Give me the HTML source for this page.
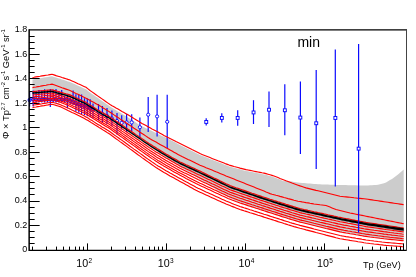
<!DOCTYPE html><html><head><meta charset="utf-8"><style>
html,body{margin:0;padding:0;background:#fff;}body{width:416px;height:277px;position:relative;overflow:hidden;font-family:"Liberation Sans",sans-serif;color:#000;}
.t{position:absolute;white-space:nowrap;line-height:1;}
.yl{font-size:9px;text-align:right;width:30px;left:-2.8px;}
.xl{font-size:10.7px;}
.xl sup{font-size:6.5px;position:relative;top:-1.2px;vertical-align:baseline;display:inline-block;transform:translateY(-3.2px);margin-left:0.3px}
</style></head><body><div style="position:absolute;left:0;top:0;width:416px;height:277px;will-change:transform">
<svg width="416" height="277" viewBox="0 0 416 277" style="position:absolute;left:0;top:0">
<polygon points="32.5,79.5 34.0,79.3 36.0,78.9 38.0,78.6 40.0,78.3 42.0,77.9 44.0,77.6 46.0,77.3 48.0,77.0 50.0,76.6 52.0,76.3 54.0,76.9 56.0,77.6 58.0,78.2 60.0,78.8 62.0,79.5 64.0,80.1 66.0,80.7 68.0,81.4 70.0,82.0 72.0,82.9 74.0,83.8 76.0,84.7 78.0,85.7 80.0,86.6 82.0,87.5 84.0,88.4 86.0,89.3 88.0,90.9 90.0,92.5 92.0,93.9 94.0,95.3 96.0,96.7 98.0,98.1 100.0,99.5 102.0,100.9 104.0,102.3 106.0,103.7 108.0,105.1 110.0,106.5 112.0,107.7 114.0,108.9 116.0,110.2 118.0,111.4 120.0,112.6 122.0,113.8 124.0,115.0 126.0,116.2 128.0,117.4 130.0,118.7 132.0,120.0 134.0,121.3 136.0,122.6 138.0,123.9 140.0,125.2 142.0,126.3 144.0,127.3 146.0,128.2 148.0,129.2 150.0,130.1 152.0,131.1 154.0,132.1 156.0,133.0 158.0,134.0 160.0,134.9 162.0,135.9 164.0,136.8 166.0,137.8 168.0,138.8 170.0,139.8 172.0,140.8 174.0,141.8 176.0,142.8 178.0,143.9 180.0,144.9 182.0,145.9 184.0,146.9 186.0,147.9 188.0,148.9 190.0,149.9 192.0,150.9 194.0,151.9 196.0,152.9 198.0,153.9 200.0,154.9 202.0,155.7 204.0,156.5 206.0,157.3 208.0,158.1 210.0,158.9 212.0,159.7 214.0,160.5 216.0,161.3 218.0,162.1 220.0,162.8 222.0,163.6 224.0,164.4 226.0,165.2 228.0,165.9 230.0,166.7 232.0,167.2 234.0,167.8 236.0,168.3 238.0,168.8 240.0,169.3 242.0,169.9 244.0,170.4 246.0,170.9 248.0,171.3 250.0,171.7 252.0,172.1 254.0,172.5 256.0,172.8 258.0,173.2 260.0,173.6 262.0,174.0 264.0,174.4 266.0,174.8 268.0,175.4 270.0,176.0 272.0,176.6 274.0,177.2 276.0,177.9 278.0,178.7 280.0,179.6 282.0,180.4 284.0,181.2 286.0,180.7 288.0,181.0 290.0,181.3 292.0,181.6 294.0,181.9 296.0,182.2 298.0,182.5 300.0,182.8 302.0,183.0 304.0,183.1 306.0,183.2 308.0,183.4 310.0,183.6 312.0,183.7 314.0,183.9 316.0,184.0 318.0,184.2 320.0,184.3 322.0,184.4 324.0,184.4 326.0,184.5 328.0,184.6 330.0,184.7 332.0,184.7 334.0,184.8 336.0,184.9 338.0,184.9 340.0,185.0 342.0,185.0 344.0,185.1 346.0,185.1 348.0,185.2 350.0,185.2 352.0,185.2 354.0,185.3 356.0,185.3 358.0,185.4 360.0,185.4 362.0,185.4 364.0,185.5 366.0,185.5 368.0,185.4 370.0,185.3 372.0,185.2 374.0,185.1 376.0,185.0 378.0,184.8 380.0,184.2 382.0,183.8 384.0,183.2 386.0,182.4 388.0,181.3 390.0,180.1 392.0,179.0 394.0,177.5 396.0,176.0 398.0,174.5 400.0,172.7 402.0,171.0 403.7,169.5 403.7,240.8 402.0,240.6 400.0,240.4 398.0,240.2 396.0,240.0 394.0,239.8 392.0,239.6 390.0,239.4 388.0,239.2 386.0,239.0 384.0,238.8 382.0,238.5 380.0,238.3 378.0,238.0 376.0,237.7 374.0,237.5 372.0,237.2 370.0,237.0 368.0,236.7 366.0,236.4 364.0,236.1 362.0,235.7 360.0,235.4 358.0,235.0 356.0,234.7 354.0,234.3 352.0,234.0 350.0,233.7 348.0,233.3 346.0,233.0 344.0,232.6 342.0,232.3 340.0,231.9 338.0,231.4 336.0,230.9 334.0,230.4 332.0,229.9 330.0,229.4 328.0,228.9 326.0,228.5 324.0,228.0 322.0,227.5 320.0,227.0 318.0,226.5 316.0,226.0 314.0,225.5 312.0,225.0 310.0,224.5 308.0,224.0 306.0,223.5 304.0,223.0 302.0,222.5 300.0,222.1 298.0,221.5 296.0,220.9 294.0,220.3 292.0,219.7 290.0,219.1 288.0,218.5 286.0,217.8 284.0,217.2 282.0,216.6 280.0,215.9 278.0,215.3 276.0,214.6 274.0,214.0 272.0,213.3 270.0,212.7 268.0,212.1 266.0,211.4 264.0,210.8 262.0,210.1 260.0,209.5 258.0,208.8 256.0,208.2 254.0,207.5 252.0,206.9 250.0,206.2 248.0,205.6 246.0,204.9 244.0,204.2 242.0,203.4 240.0,202.6 238.0,201.8 236.0,200.9 234.0,200.0 232.0,199.1 230.0,198.2 228.0,197.0 226.0,195.8 224.0,194.6 222.0,193.3 220.0,192.1 218.0,190.8 216.0,189.5 214.0,188.2 212.0,187.0 210.0,185.7 208.0,184.4 206.0,183.1 204.0,181.9 202.0,180.6 200.0,179.3 198.0,178.0 196.0,176.7 194.0,175.4 192.0,174.1 190.0,172.8 188.0,171.6 186.0,170.4 184.0,169.2 182.0,168.0 180.0,166.9 178.0,165.5 176.0,164.2 174.0,162.8 172.0,161.4 170.0,160.1 168.0,158.7 166.0,157.4 164.0,156.0 162.0,154.5 160.0,153.0 158.0,151.6 156.0,150.1 154.0,148.6 152.0,147.2 150.0,145.7 148.0,144.3 146.0,143.0 144.0,141.6 142.0,140.2 140.0,138.9 138.0,137.5 136.0,136.2 134.0,134.8 132.0,133.4 130.0,132.1 128.0,130.7 126.0,129.4 124.0,128.0 122.0,126.6 120.0,125.3 118.0,123.9 116.0,122.6 114.0,121.2 112.0,119.9 110.0,118.5 108.0,117.4 106.0,116.2 104.0,115.1 102.0,114.0 100.0,112.8 98.0,111.7 96.0,110.4 94.0,109.1 92.0,107.8 90.0,106.5 88.0,105.2 86.0,103.9 84.0,103.0 82.0,102.1 80.0,101.1 78.0,100.2 76.0,99.3 74.0,98.3 72.0,97.4 70.0,96.5 68.0,95.9 66.0,95.4 64.0,94.8 62.0,94.2 60.0,93.7 58.0,93.1 56.0,92.5 54.0,92.0 52.0,91.4 50.0,91.6 48.0,91.7 46.0,91.9 44.0,92.1 42.0,92.3 40.0,92.4 38.0,92.6 36.0,92.8 34.0,93.0 32.5,93.1" fill="#cccccc"/>
<line x1="29.15" y1="243.50" x2="34.65" y2="243.50" stroke="#000" stroke-width="1"/>
<line x1="29.15" y1="237.50" x2="34.65" y2="237.50" stroke="#000" stroke-width="1"/>
<line x1="29.15" y1="231.50" x2="34.65" y2="231.50" stroke="#000" stroke-width="1"/>
<line x1="29.15" y1="225.50" x2="39.65" y2="225.50" stroke="#000" stroke-width="1"/>
<line x1="29.15" y1="219.50" x2="34.65" y2="219.50" stroke="#000" stroke-width="1"/>
<line x1="29.15" y1="213.50" x2="34.65" y2="213.50" stroke="#000" stroke-width="1"/>
<line x1="29.15" y1="207.50" x2="34.65" y2="207.50" stroke="#000" stroke-width="1"/>
<line x1="29.15" y1="201.50" x2="39.65" y2="201.50" stroke="#000" stroke-width="1"/>
<line x1="29.15" y1="194.50" x2="34.65" y2="194.50" stroke="#000" stroke-width="1"/>
<line x1="29.15" y1="188.50" x2="34.65" y2="188.50" stroke="#000" stroke-width="1"/>
<line x1="29.15" y1="182.50" x2="34.65" y2="182.50" stroke="#000" stroke-width="1"/>
<line x1="29.15" y1="176.50" x2="39.65" y2="176.50" stroke="#000" stroke-width="1"/>
<line x1="29.15" y1="170.50" x2="34.65" y2="170.50" stroke="#000" stroke-width="1"/>
<line x1="29.15" y1="164.50" x2="34.65" y2="164.50" stroke="#000" stroke-width="1"/>
<line x1="29.15" y1="158.50" x2="34.65" y2="158.50" stroke="#000" stroke-width="1"/>
<line x1="29.15" y1="152.50" x2="39.65" y2="152.50" stroke="#000" stroke-width="1"/>
<line x1="29.15" y1="146.50" x2="34.65" y2="146.50" stroke="#000" stroke-width="1"/>
<line x1="29.15" y1="139.50" x2="34.65" y2="139.50" stroke="#000" stroke-width="1"/>
<line x1="29.15" y1="133.50" x2="34.65" y2="133.50" stroke="#000" stroke-width="1"/>
<line x1="29.15" y1="127.50" x2="39.65" y2="127.50" stroke="#000" stroke-width="1"/>
<line x1="29.15" y1="121.50" x2="34.65" y2="121.50" stroke="#000" stroke-width="1"/>
<line x1="29.15" y1="115.50" x2="34.65" y2="115.50" stroke="#000" stroke-width="1"/>
<line x1="29.15" y1="109.50" x2="34.65" y2="109.50" stroke="#000" stroke-width="1"/>
<line x1="29.15" y1="103.50" x2="39.65" y2="103.50" stroke="#000" stroke-width="1"/>
<line x1="29.15" y1="97.50" x2="34.65" y2="97.50" stroke="#000" stroke-width="1"/>
<line x1="29.15" y1="91.50" x2="34.65" y2="91.50" stroke="#000" stroke-width="1"/>
<line x1="29.15" y1="84.50" x2="34.65" y2="84.50" stroke="#000" stroke-width="1"/>
<line x1="29.15" y1="78.50" x2="39.65" y2="78.50" stroke="#000" stroke-width="1"/>
<line x1="29.15" y1="72.50" x2="34.65" y2="72.50" stroke="#000" stroke-width="1"/>
<line x1="29.15" y1="66.50" x2="34.65" y2="66.50" stroke="#000" stroke-width="1"/>
<line x1="29.15" y1="60.50" x2="34.65" y2="60.50" stroke="#000" stroke-width="1"/>
<line x1="29.15" y1="54.50" x2="39.65" y2="54.50" stroke="#000" stroke-width="1"/>
<line x1="29.15" y1="48.50" x2="34.65" y2="48.50" stroke="#000" stroke-width="1"/>
<line x1="29.15" y1="42.50" x2="34.65" y2="42.50" stroke="#000" stroke-width="1"/>
<line x1="29.15" y1="36.50" x2="34.65" y2="36.50" stroke="#000" stroke-width="1"/>
<line x1="33.2" y1="90.4" x2="33.2" y2="106.5" stroke="#0a0aff" stroke-width="1.2"/>
<line x1="36.1" y1="91.0" x2="36.1" y2="102.5" stroke="#0a0aff" stroke-width="1.2"/>
<line x1="38.9" y1="90.1" x2="38.9" y2="102.5" stroke="#0a0aff" stroke-width="1.2"/>
<line x1="41.8" y1="90.3" x2="41.8" y2="102.5" stroke="#0a0aff" stroke-width="1.2"/>
<line x1="44.6" y1="89.2" x2="44.6" y2="102.5" stroke="#0a0aff" stroke-width="1.2"/>
<line x1="47.5" y1="90.0" x2="47.5" y2="102.5" stroke="#0a0aff" stroke-width="1.2"/>
<line x1="50.3" y1="89.1" x2="50.3" y2="107.1" stroke="#0a0aff" stroke-width="1.2"/>
<line x1="53.2" y1="89.7" x2="53.2" y2="102.5" stroke="#0a0aff" stroke-width="1.2"/>
<line x1="56.0" y1="89.1" x2="56.0" y2="102.5" stroke="#0a0aff" stroke-width="1.2"/>
<line x1="58.9" y1="90.9" x2="58.9" y2="102.5" stroke="#0a0aff" stroke-width="1.2"/>
<line x1="61.7" y1="89.9" x2="61.7" y2="102.5" stroke="#0a0aff" stroke-width="1.2"/>
<line x1="64.6" y1="96.0" x2="64.6" y2="102.5" stroke="#0a0aff" stroke-width="1.2"/>
<line x1="67.4" y1="94.4" x2="67.4" y2="108.2" stroke="#0a0aff" stroke-width="1.2"/>
<line x1="70.2" y1="97.6" x2="70.2" y2="104.1" stroke="#0a0aff" stroke-width="1.2"/>
<line x1="73.1" y1="90.5" x2="73.1" y2="105.1" stroke="#0a0aff" stroke-width="1.2"/>
<line x1="75.9" y1="94.3" x2="75.9" y2="111.6" stroke="#0a0aff" stroke-width="1.2"/>
<line x1="78.8" y1="94.4" x2="78.8" y2="112.7" stroke="#0a0aff" stroke-width="1.2"/>
<line x1="81.6" y1="94.5" x2="81.6" y2="113.9" stroke="#0a0aff" stroke-width="1.2"/>
<line x1="84.5" y1="98.2" x2="84.5" y2="115.0" stroke="#0a0aff" stroke-width="1.2"/>
<line x1="87.3" y1="98.6" x2="87.3" y2="116.2" stroke="#0a0aff" stroke-width="1.2"/>
<line x1="90.2" y1="99.2" x2="90.2" y2="117.3" stroke="#0a0aff" stroke-width="1.2"/>
<line x1="93.0" y1="103.5" x2="93.0" y2="118.5" stroke="#0a0aff" stroke-width="1.2"/>
<line x1="29.6" y1="92.0" x2="29.6" y2="106.5" stroke="#0a0aff" stroke-width="1.2"/>
<line x1="148.2" y1="96.9" x2="148.2" y2="132.1" stroke="#0a0aff" stroke-width="1.2"/>
<line x1="157.1" y1="94.7" x2="157.1" y2="136.5" stroke="#0a0aff" stroke-width="1.2"/>
<line x1="167.2" y1="94.7" x2="167.2" y2="148.0" stroke="#0a0aff" stroke-width="1.2"/>
<line x1="139.9" y1="117.5" x2="139.9" y2="137.8" stroke="#0a0aff" stroke-width="1.2"/>
<line x1="131.7" y1="114.2" x2="131.7" y2="131.0" stroke="#0a0aff" stroke-width="1.2"/>
<line x1="126.6" y1="113.7" x2="126.6" y2="132.0" stroke="#0a0aff" stroke-width="1.2"/>
<line x1="121.7" y1="115.3" x2="121.7" y2="129.4" stroke="#0a0aff" stroke-width="1.2"/>
<line x1="117.0" y1="113.0" x2="117.0" y2="134.5" stroke="#0a0aff" stroke-width="1.2"/>
<line x1="111.9" y1="110.5" x2="111.9" y2="126.0" stroke="#0a0aff" stroke-width="1.2"/>
<line x1="107.0" y1="108.0" x2="107.0" y2="124.0" stroke="#0a0aff" stroke-width="1.2"/>
<line x1="102.4" y1="106.0" x2="102.4" y2="122.9" stroke="#0a0aff" stroke-width="1.2"/>
<line x1="98.5" y1="104.0" x2="98.5" y2="120.0" stroke="#0a0aff" stroke-width="1.2"/>
<circle cx="33.2" cy="99.5" r="1.5" fill="none" stroke="#0a0aff" stroke-width="1.15"/>
<circle cx="36.1" cy="99.5" r="1.5" fill="none" stroke="#0a0aff" stroke-width="1.15"/>
<circle cx="38.9" cy="99.5" r="1.5" fill="none" stroke="#0a0aff" stroke-width="1.15"/>
<circle cx="41.8" cy="99.5" r="1.5" fill="none" stroke="#0a0aff" stroke-width="1.15"/>
<circle cx="44.6" cy="99.5" r="1.5" fill="none" stroke="#0a0aff" stroke-width="1.15"/>
<circle cx="47.5" cy="99.5" r="1.5" fill="none" stroke="#0a0aff" stroke-width="1.15"/>
<circle cx="50.3" cy="99.5" r="1.5" fill="none" stroke="#0a0aff" stroke-width="1.15"/>
<circle cx="53.2" cy="99.5" r="1.5" fill="none" stroke="#0a0aff" stroke-width="1.15"/>
<circle cx="56.0" cy="99.5" r="1.5" fill="none" stroke="#0a0aff" stroke-width="1.15"/>
<circle cx="58.9" cy="99.5" r="1.5" fill="none" stroke="#0a0aff" stroke-width="1.15"/>
<circle cx="61.7" cy="99.5" r="1.5" fill="none" stroke="#0a0aff" stroke-width="1.15"/>
<circle cx="64.6" cy="99.5" r="1.5" fill="none" stroke="#0a0aff" stroke-width="1.15"/>
<circle cx="67.4" cy="100.0" r="1.5" fill="none" stroke="#0a0aff" stroke-width="1.15"/>
<circle cx="70.2" cy="101.1" r="1.5" fill="none" stroke="#0a0aff" stroke-width="1.15"/>
<circle cx="73.1" cy="102.1" r="1.5" fill="none" stroke="#0a0aff" stroke-width="1.15"/>
<circle cx="75.9" cy="103.2" r="1.5" fill="none" stroke="#0a0aff" stroke-width="1.15"/>
<circle cx="78.8" cy="104.2" r="1.5" fill="none" stroke="#0a0aff" stroke-width="1.15"/>
<circle cx="81.6" cy="105.3" r="1.5" fill="none" stroke="#0a0aff" stroke-width="1.15"/>
<circle cx="84.5" cy="106.3" r="1.5" fill="none" stroke="#0a0aff" stroke-width="1.15"/>
<circle cx="87.3" cy="107.4" r="1.5" fill="none" stroke="#0a0aff" stroke-width="1.15"/>
<circle cx="90.2" cy="108.4" r="1.5" fill="none" stroke="#0a0aff" stroke-width="1.15"/>
<circle cx="93.0" cy="109.5" r="1.5" fill="none" stroke="#0a0aff" stroke-width="1.15"/>
<circle cx="29.6" cy="100.1" r="1.5" fill="none" stroke="#0a0aff" stroke-width="1.15"/>
<circle cx="148.2" cy="114.7" r="1.6" fill="#fff" stroke="#0a0aff" stroke-width="0.95"/>
<circle cx="157.1" cy="116.4" r="1.6" fill="#fff" stroke="#0a0aff" stroke-width="0.95"/>
<circle cx="167.2" cy="121.8" r="1.6" fill="#fff" stroke="#0a0aff" stroke-width="0.95"/>
<circle cx="139.9" cy="127.2" r="1.6" fill="#fff" stroke="#0a0aff" stroke-width="0.95"/>
<circle cx="131.7" cy="122.4" r="1.6" fill="#fff" stroke="#0a0aff" stroke-width="0.95"/>
<circle cx="126.6" cy="122.4" r="1.6" fill="#fff" stroke="#0a0aff" stroke-width="0.95"/>
<circle cx="121.7" cy="122.9" r="1.6" fill="#fff" stroke="#0a0aff" stroke-width="0.95"/>
<circle cx="117.0" cy="121.0" r="1.6" fill="#fff" stroke="#0a0aff" stroke-width="0.95"/>
<circle cx="111.9" cy="118.5" r="1.6" fill="#fff" stroke="#0a0aff" stroke-width="0.95"/>
<circle cx="107.0" cy="116.0" r="1.6" fill="#fff" stroke="#0a0aff" stroke-width="0.95"/>
<circle cx="102.4" cy="114.0" r="1.6" fill="#fff" stroke="#0a0aff" stroke-width="0.95"/>
<circle cx="98.5" cy="112.0" r="1.6" fill="#fff" stroke="#0a0aff" stroke-width="0.95"/>
<polyline points="32.5,77.5 34.0,77.3 36.0,76.9 38.0,76.6 40.0,76.3 42.0,75.9 44.0,75.6 46.0,75.3 48.0,75.0 50.0,74.6 52.0,74.3 54.0,74.9 56.0,75.6 58.0,76.2 60.0,76.8 62.0,77.5 64.0,78.1 66.0,78.7 68.0,79.4 70.0,80.0 72.0,80.9 74.0,81.8 76.0,82.7 78.0,83.7 80.0,84.6 82.0,85.5 84.0,86.4 86.0,87.3 88.0,88.9 90.0,90.5 92.0,91.9 94.0,93.3 96.0,94.7 98.0,96.1 100.0,97.5 102.0,98.9 104.0,100.3 106.0,101.7 108.0,103.1 110.0,104.5 112.0,105.7 114.0,106.8 116.0,108.0 118.0,109.1 120.0,110.2 122.0,111.4 124.0,112.5 126.0,113.7 128.0,114.8 130.0,116.0 132.0,117.2 134.0,118.5 136.0,119.7 138.0,120.9 140.0,122.2 142.0,123.4 144.0,124.5 146.0,125.6 148.0,126.7 150.0,127.8 152.0,128.9 154.0,129.9 156.0,131.0 158.0,132.1 160.0,133.2 162.0,134.3 164.0,135.4 166.0,136.4 168.0,137.4 170.0,138.4 172.0,139.4 174.0,140.4 176.0,141.5 178.0,142.5 180.0,143.5 182.0,144.5 184.0,145.5 186.0,146.5 188.0,147.5 190.0,148.5 192.0,149.6 194.0,150.6 196.0,151.6 198.0,152.6 200.0,153.6 202.0,154.4 204.0,155.2 206.0,156.0 208.0,156.8 210.0,157.6 212.0,158.4 214.0,159.2 216.0,160.0 218.0,160.8 220.0,161.5 222.0,162.3 224.0,163.1 226.0,163.9 228.0,164.6 230.0,165.4 232.0,165.9 234.0,166.5 236.0,167.0 238.0,167.5 240.0,168.1 242.0,168.6 244.0,169.1 246.0,169.6 248.0,170.0 250.0,170.4 252.0,170.8 254.0,171.2 256.0,171.6 258.0,172.0 260.0,172.4 262.0,172.8 264.0,173.1 266.0,173.6 268.0,174.2 270.0,174.8 272.0,175.4 274.0,176.0 276.0,176.7 278.0,177.5 280.0,178.4 282.0,179.2 284.0,180.0 286.0,180.8 288.0,181.5 290.0,182.3 292.0,183.1 294.0,183.8 296.0,184.5 298.0,185.2 300.0,185.9 302.0,186.5 304.0,187.2 306.0,187.9 308.0,188.4 310.0,188.9 312.0,189.4 314.0,189.9 316.0,190.4 318.0,190.8 320.0,191.3 322.0,191.8 324.0,192.3 326.0,192.8 328.0,193.3 330.0,193.8 332.0,194.3 334.0,194.8 336.0,195.3 338.0,195.8 340.0,196.3 342.0,196.5 344.0,196.7 346.0,196.9 348.0,197.1 350.0,197.3 352.0,197.5 354.0,197.8 356.0,198.0 358.0,198.2 360.0,198.4 362.0,198.6 364.0,198.8 366.0,199.0 368.0,199.3 370.0,199.6 372.0,199.9 374.0,200.2 376.0,200.5 378.0,200.8 380.0,201.1 382.0,201.4 384.0,201.7 386.0,202.0 388.0,202.3 390.0,202.6 392.0,202.9 394.0,203.2 396.0,203.5 398.0,203.8 400.0,204.1 402.0,204.4 403.7,204.7" fill="none" stroke="#ff0000" stroke-width="1.12"/>
<polyline points="32.5,87.6 34.0,87.3 36.0,87.0 38.0,86.6 40.0,86.3 42.0,85.9 44.0,85.5 46.0,85.2 48.0,84.8 50.0,84.5 52.0,84.1 54.0,84.8 56.0,85.5 58.0,86.2 60.0,86.9 62.0,87.7 64.0,88.4 66.0,89.1 68.0,89.8 70.0,90.5 72.0,91.5 74.0,92.4 76.0,93.4 78.0,94.3 80.0,95.3 82.0,96.3 84.0,97.2 86.0,98.2 88.0,99.3 90.0,100.4 92.0,101.5 94.0,102.6 96.0,103.7 98.0,104.8 100.0,105.9 102.0,107.2 104.0,108.4 106.0,109.7 108.0,110.9 110.0,112.2 112.0,113.5 114.0,114.9 116.0,116.2 118.0,117.5 120.0,118.9 122.0,120.2 124.0,121.5 126.0,122.8 128.0,124.2 130.0,125.5 132.0,126.8 134.0,128.2 136.0,129.5 138.0,130.8 140.0,132.2 142.0,133.5 144.0,134.8 146.0,136.1 148.0,137.5 150.0,138.8 152.0,139.9 154.0,141.0 156.0,142.1 158.0,143.3 160.0,144.4 162.0,145.5 164.0,146.6 166.0,147.7 168.0,148.8 170.0,149.9 172.0,151.0 174.0,152.2 176.0,153.3 178.0,154.4 180.0,155.5 182.0,156.5 184.0,157.4 186.0,158.4 188.0,159.4 190.0,160.3 192.0,161.3 194.0,162.3 196.0,163.3 198.0,164.2 200.0,165.2 202.0,166.0 204.0,166.8 206.0,167.7 208.0,168.5 210.0,169.3 212.0,170.1 214.0,170.9 216.0,171.8 218.0,172.6 220.0,173.4 222.0,174.2 224.0,175.0 226.0,175.9 228.0,176.7 230.0,177.5 232.0,178.3 234.0,179.1 236.0,179.9 238.0,180.7 240.0,181.5 242.0,182.3 244.0,183.1 246.0,183.9 248.0,184.7 250.0,185.5 252.0,186.3 254.0,187.1 256.0,187.9 258.0,188.7 260.0,189.5 262.0,190.3 264.0,191.1 266.0,192.0 268.0,192.8 270.0,193.6 272.0,194.2 274.0,194.7 276.0,195.3 278.0,195.8 280.0,196.4 282.0,196.9 284.0,197.5 286.0,198.0 288.0,198.6 290.0,199.1 292.0,199.6 294.0,200.2 296.0,200.7 298.0,201.2 300.0,201.5 302.0,201.9 304.0,202.2 306.0,202.6 308.0,202.9 310.0,203.3 312.0,203.6 314.0,204.0 316.0,204.2 318.0,204.5 320.0,204.8 322.0,205.0 324.0,205.2 326.0,205.5 328.0,206.3 330.0,207.1 332.0,207.9 334.0,208.7 336.0,209.5 338.0,210.0 340.0,210.5 342.0,211.0 344.0,211.5 346.0,212.0 348.0,212.5 350.0,213.0 352.0,213.4 354.0,213.8 356.0,214.2 358.0,214.6 360.0,215.0 362.0,215.4 364.0,215.8 366.0,216.2 368.0,216.6 370.0,217.0 372.0,217.4 374.0,217.8 376.0,218.2 378.0,218.6 380.0,219.0 382.0,219.4 384.0,219.8 386.0,220.2 388.0,220.6 390.0,221.0 392.0,221.4 394.0,221.8 396.0,222.2 398.0,222.6 400.0,223.0 402.0,223.4 403.7,223.7" fill="none" stroke="#ff0000" stroke-width="1.12"/>
<polyline points="32.5,91.5 34.0,91.4 36.0,91.2 38.0,91.0 40.0,90.8 42.0,90.7 44.0,90.5 46.0,90.3 48.0,90.1 50.0,90.0 52.0,89.8 54.0,90.4 56.0,90.9 58.0,91.5 60.0,92.1 62.0,92.6 64.0,93.2 66.0,93.8 68.0,94.3 70.0,94.9 72.0,95.8 74.0,96.8 76.0,97.7 78.0,98.6 80.0,99.5 82.0,100.5 84.0,101.4 86.0,102.3 88.0,103.6 90.0,104.9 92.0,106.2 94.0,107.5 96.0,108.8 98.0,110.1 100.0,111.2 102.0,112.4 104.0,113.5 106.0,114.6 108.0,115.8 110.0,116.9 112.0,118.3 114.0,119.6 116.0,121.0 118.0,122.3 120.0,123.7 122.0,125.0 124.0,126.4 126.0,127.8 128.0,129.1 130.0,130.5 132.0,131.8 134.0,133.2 136.0,134.6 138.0,135.9 140.0,137.3 142.0,138.6 144.0,140.0 146.0,141.4 148.0,142.7 150.0,144.1 152.0,145.3 154.0,146.6 156.0,147.8 158.0,149.1 160.0,150.3 162.0,151.5 164.0,152.8 166.0,154.0 168.0,155.1 170.0,156.2 172.0,157.4 174.0,158.5 176.0,159.6 178.0,160.8 180.0,161.9 182.0,162.8 184.0,163.7 186.0,164.7 188.0,165.6 190.0,166.5 192.0,167.4 194.0,168.3 196.0,169.3 198.0,170.2 200.0,171.1 202.0,172.1 204.0,173.0 206.0,174.0 208.0,175.0 210.0,175.9 212.0,176.9 214.0,177.9 216.0,178.8 218.0,179.8 220.0,180.8 222.0,181.7 224.0,182.7 226.0,183.7 228.0,184.6 230.0,185.6 232.0,186.3 234.0,187.0 236.0,187.7 238.0,188.3 240.0,189.0 242.0,189.7 244.0,190.4 246.0,191.1 248.0,191.8 250.0,192.5 252.0,193.2 254.0,193.8 256.0,194.5 258.0,195.2 260.0,195.9 262.0,196.6 264.0,197.2 266.0,197.8 268.0,198.5 270.0,199.2 272.0,199.8 274.0,200.5 276.0,201.1 278.0,201.8 280.0,202.4 282.0,203.0 284.0,203.6 286.0,204.3 288.0,204.9 290.0,205.5 292.0,206.1 294.0,206.7 296.0,207.4 298.0,208.0 300.0,208.6 302.0,209.0 304.0,209.5 306.0,209.9 308.0,210.4 310.0,210.8 312.0,211.2 314.0,211.7 316.0,212.1 318.0,212.6 320.0,213.0 322.0,213.4 324.0,213.9 326.0,214.3 328.0,214.8 330.0,215.2 332.0,215.6 334.0,216.1 336.0,216.5 338.0,217.0 340.0,217.4 342.0,217.8 344.0,218.2 346.0,218.6 348.0,218.9 350.0,219.3 352.0,219.7 354.0,220.1 356.0,220.5 358.0,220.9 360.0,221.2 362.0,221.6 364.0,222.0 366.0,222.4 368.0,222.7 370.0,223.0 372.0,223.3 374.0,223.6 376.0,223.9 378.0,224.2 380.0,224.5 382.0,224.8 384.0,225.1 386.0,225.4 388.0,225.7 390.0,226.0 392.0,226.3 394.0,226.6 396.0,226.9 398.0,227.2 400.0,227.5 402.0,227.7 403.7,228.0" fill="none" stroke="#ff0000" stroke-width="1.12"/>
<polyline points="32.5,95.1 34.0,94.9 36.0,94.7 38.0,94.5 40.0,94.3 42.0,94.1 44.0,93.9 46.0,93.7 48.0,93.5 50.0,93.3 52.0,93.1 54.0,93.7 56.0,94.3 58.0,94.8 60.0,95.4 62.0,96.0 64.0,96.7 66.0,97.3 68.0,97.9 70.0,98.5 72.0,99.4 74.0,100.4 76.0,101.3 78.0,102.2 80.0,103.2 82.0,104.1 84.0,105.0 86.0,106.0 88.0,107.3 90.0,108.6 92.0,109.9 94.0,111.1 96.0,112.4 98.0,113.7 100.0,114.9 102.0,116.0 104.0,117.2 106.0,118.3 108.0,119.5 110.0,120.6 112.0,122.0 114.0,123.4 116.0,124.7 118.0,126.1 120.0,127.5 122.0,128.9 124.0,130.2 126.0,131.6 128.0,133.0 130.0,134.3 132.0,135.7 134.0,137.1 136.0,138.5 138.0,139.8 140.0,141.2 142.0,142.6 144.0,144.0 146.0,145.3 148.0,146.7 150.0,148.1 152.0,149.3 154.0,150.6 156.0,151.9 158.0,153.1 160.0,154.3 162.0,155.6 164.0,156.8 166.0,158.0 168.0,159.1 170.0,160.3 172.0,161.4 174.0,162.5 176.0,163.7 178.0,164.8 180.0,165.9 182.0,166.9 184.0,167.8 186.0,168.8 188.0,169.7 190.0,170.6 192.0,171.6 194.0,172.5 196.0,173.5 198.0,174.4 200.0,175.3 202.0,176.3 204.0,177.3 206.0,178.2 208.0,179.2 210.0,180.1 212.0,181.1 214.0,182.0 216.0,183.0 218.0,184.0 220.0,184.9 222.0,185.9 224.0,186.8 226.0,187.8 228.0,188.7 230.0,189.7 232.0,190.4 234.0,191.1 236.0,191.8 238.0,192.5 240.0,193.2 242.0,193.9 244.0,194.5 246.0,195.2 248.0,195.9 250.0,196.6 252.0,197.3 254.0,197.9 256.0,198.6 258.0,199.3 260.0,200.0 262.0,200.6 264.0,201.3 266.0,201.9 268.0,202.6 270.0,203.2 272.0,203.9 274.0,204.5 276.0,205.2 278.0,205.8 280.0,206.5 282.0,207.1 284.0,207.7 286.0,208.3 288.0,208.9 290.0,209.6 292.0,210.2 294.0,210.8 296.0,211.4 298.0,212.0 300.0,212.6 302.0,213.1 304.0,213.5 306.0,214.0 308.0,214.4 310.0,214.9 312.0,215.3 314.0,215.8 316.0,216.2 318.0,216.7 320.0,217.2 322.0,217.6 324.0,218.1 326.0,218.5 328.0,219.0 330.0,219.4 332.0,219.9 334.0,220.3 336.0,220.8 338.0,221.2 340.0,221.7 342.0,222.0 344.0,222.4 346.0,222.8 348.0,223.2 350.0,223.5 352.0,223.9 354.0,224.3 356.0,224.7 358.0,225.1 360.0,225.4 362.0,225.8 364.0,226.2 366.0,226.6 368.0,226.9 370.0,227.1 372.0,227.4 374.0,227.7 376.0,228.0 378.0,228.3 380.0,228.6 382.0,228.9 384.0,229.2 386.0,229.5 388.0,229.7 390.0,230.0 392.0,230.3 394.0,230.6 396.0,230.8 398.0,231.1 400.0,231.4 402.0,231.7 403.7,231.9" fill="none" stroke="#ff0000" stroke-width="1.12"/>
<polyline points="32.5,97.0 34.0,96.8 36.0,96.6 38.0,96.4 40.0,96.2 42.0,96.0 44.0,95.7 46.0,95.5 48.0,95.3 50.0,95.1 52.0,94.9 54.0,95.4 56.0,96.0 58.0,96.6 60.0,97.2 62.0,97.8 64.0,98.5 66.0,99.2 68.0,99.9 70.0,100.5 72.0,101.5 74.0,102.4 76.0,103.3 78.0,104.3 80.0,105.2 82.0,106.1 84.0,107.1 86.0,108.1 88.0,109.4 90.0,110.6 92.0,111.9 94.0,113.2 96.0,114.5 98.0,115.8 100.0,117.0 102.0,118.1 104.0,119.3 106.0,120.4 108.0,121.6 110.0,122.8 112.0,124.1 114.0,125.5 116.0,126.9 118.0,128.3 120.0,129.7 122.0,131.1 124.0,132.4 126.0,133.8 128.0,135.2 130.0,136.6 132.0,138.0 134.0,139.4 136.0,140.8 138.0,142.2 140.0,143.5 142.0,144.9 144.0,146.3 146.0,147.7 148.0,149.1 150.0,150.5 152.0,151.7 154.0,153.0 156.0,154.3 158.0,155.6 160.0,156.8 162.0,158.0 164.0,159.2 166.0,160.4 168.0,161.6 170.0,162.7 172.0,163.8 174.0,165.0 176.0,166.1 178.0,167.2 180.0,168.3 182.0,169.3 184.0,170.3 186.0,171.2 188.0,172.2 190.0,173.2 192.0,174.2 194.0,175.1 196.0,176.1 198.0,177.1 200.0,178.0 202.0,178.9 204.0,179.9 206.0,180.8 208.0,181.8 210.0,182.7 212.0,183.7 214.0,184.6 216.0,185.6 218.0,186.5 220.0,187.5 222.0,188.4 224.0,189.4 226.0,190.3 228.0,191.2 230.0,192.2 232.0,192.9 234.0,193.6 236.0,194.3 238.0,195.0 240.0,195.7 242.0,196.4 244.0,197.1 246.0,197.7 248.0,198.4 250.0,199.1 252.0,199.8 254.0,200.4 256.0,201.1 258.0,201.8 260.0,202.4 262.0,203.1 264.0,203.7 266.0,204.4 268.0,205.0 270.0,205.7 272.0,206.3 274.0,207.0 276.0,207.6 278.0,208.3 280.0,208.9 282.0,209.5 284.0,210.2 286.0,210.8 288.0,211.4 290.0,212.0 292.0,212.7 294.0,213.3 296.0,213.9 298.0,214.5 300.0,215.1 302.0,215.5 304.0,216.0 306.0,216.5 308.0,216.9 310.0,217.4 312.0,217.9 314.0,218.3 316.0,218.8 318.0,219.2 320.0,219.7 322.0,220.2 324.0,220.6 326.0,221.1 328.0,221.5 330.0,222.0 332.0,222.5 334.0,222.9 336.0,223.4 338.0,223.9 340.0,224.3 342.0,224.7 344.0,225.1 346.0,225.4 348.0,225.8 350.0,226.2 352.0,226.5 354.0,226.9 356.0,227.3 358.0,227.6 360.0,228.0 362.0,228.4 364.0,228.8 366.0,229.1 368.0,229.4 370.0,229.7 372.0,230.0 374.0,230.3 376.0,230.5 378.0,230.8 380.0,231.1 382.0,231.4 384.0,231.7 386.0,231.9 388.0,232.2 390.0,232.5 392.0,232.7 394.0,233.0 396.0,233.2 398.0,233.5 400.0,233.7 402.0,234.0 403.7,234.2" fill="none" stroke="#ff0000" stroke-width="1.12"/>
<polyline points="32.5,98.9 34.0,98.7 36.0,98.5 38.0,98.2 40.0,98.0 42.0,97.7 44.0,97.5 46.0,97.3 48.0,97.0 50.0,96.8 52.0,96.5 54.0,97.1 56.0,97.7 58.0,98.3 60.0,98.8 62.0,99.6 64.0,100.3 66.0,101.0 68.0,101.7 70.0,102.5 72.0,103.4 74.0,104.3 76.0,105.3 78.0,106.2 80.0,107.2 82.0,108.1 84.0,109.0 86.0,110.1 88.0,111.4 90.0,112.6 92.0,113.9 94.0,115.2 96.0,116.5 98.0,117.7 100.0,118.9 102.0,120.1 104.0,121.3 106.0,122.5 108.0,123.6 110.0,124.8 112.0,126.2 114.0,127.6 116.0,129.0 118.0,130.4 120.0,131.8 122.0,133.2 124.0,134.6 126.0,136.0 128.0,137.4 130.0,138.8 132.0,140.2 134.0,141.6 136.0,143.0 138.0,144.4 140.0,145.8 142.0,147.2 144.0,148.6 146.0,150.0 148.0,151.4 150.0,152.7 152.0,154.0 154.0,155.3 156.0,156.7 158.0,157.9 160.0,159.1 162.0,160.4 164.0,161.6 166.0,162.8 168.0,163.9 170.0,165.0 172.0,166.2 174.0,167.3 176.0,168.4 178.0,169.5 180.0,170.7 182.0,171.7 184.0,172.7 186.0,173.6 188.0,174.6 190.0,175.6 192.0,176.6 194.0,177.6 196.0,178.6 198.0,179.6 200.0,180.5 202.0,181.5 204.0,182.4 206.0,183.3 208.0,184.3 210.0,185.2 212.0,186.2 214.0,187.1 216.0,188.0 218.0,189.0 220.0,189.9 222.0,190.9 224.0,191.8 226.0,192.7 228.0,193.7 230.0,194.5 232.0,195.3 234.0,196.0 236.0,196.7 238.0,197.5 240.0,198.2 242.0,198.8 244.0,199.5 246.0,200.2 248.0,200.8 250.0,201.5 252.0,202.2 254.0,202.8 256.0,203.5 258.0,204.2 260.0,204.8 262.0,205.5 264.0,206.1 266.0,206.8 268.0,207.4 270.0,208.1 272.0,208.7 274.0,209.3 276.0,210.0 278.0,210.6 280.0,211.3 282.0,211.9 284.0,212.5 286.0,213.2 288.0,213.8 290.0,214.4 292.0,215.0 294.0,215.6 296.0,216.2 298.0,216.8 300.0,217.4 302.0,217.9 304.0,218.4 306.0,218.9 308.0,219.3 310.0,219.8 312.0,220.3 314.0,220.7 316.0,221.2 318.0,221.7 320.0,222.2 322.0,222.6 324.0,223.1 326.0,223.6 328.0,224.0 330.0,224.5 332.0,225.0 334.0,225.5 336.0,225.9 338.0,226.4 340.0,226.9 342.0,227.2 344.0,227.6 346.0,228.0 348.0,228.3 350.0,228.7 352.0,229.1 354.0,229.4 356.0,229.8 358.0,230.1 360.0,230.5 362.0,230.9 364.0,231.2 366.0,231.6 368.0,231.9 370.0,232.1 372.0,232.4 374.0,232.7 376.0,233.0 378.0,233.2 380.0,233.5 382.0,233.8 384.0,234.1 386.0,234.3 388.0,234.6 390.0,234.8 392.0,235.1 394.0,235.3 396.0,235.5 398.0,235.8 400.0,236.0 402.0,236.2 403.7,236.4" fill="none" stroke="#ff0000" stroke-width="1.12"/>
<polyline points="32.5,100.9 34.0,100.7 36.0,100.4 38.0,100.1 40.0,99.9 42.0,99.6 44.0,99.3 46.0,99.1 48.0,98.8 50.0,98.5 52.0,98.2 54.0,98.8 56.0,99.4 58.0,100.0 60.0,100.6 62.0,101.4 64.0,102.1 66.0,102.9 68.0,103.7 70.0,104.5 72.0,105.4 74.0,106.4 76.0,107.3 78.0,108.3 80.0,109.2 82.0,110.2 84.0,111.1 86.0,112.2 88.0,113.4 90.0,114.7 92.0,116.0 94.0,117.2 96.0,118.5 98.0,119.8 100.0,121.0 102.0,122.2 104.0,123.4 106.0,124.6 108.0,125.8 110.0,127.0 112.0,128.4 114.0,129.8 116.0,131.2 118.0,132.6 120.0,134.0 122.0,135.4 124.0,136.8 126.0,138.2 128.0,139.6 130.0,141.1 132.0,142.5 134.0,143.9 136.0,145.3 138.0,146.7 140.0,148.1 142.0,149.5 144.0,150.9 146.0,152.4 148.0,153.7 150.0,155.1 152.0,156.4 154.0,157.8 156.0,159.1 158.0,160.4 160.0,161.6 162.0,162.8 164.0,164.0 166.0,165.2 168.0,166.3 170.0,167.5 172.0,168.6 174.0,169.7 176.0,170.8 178.0,172.0 180.0,173.1 182.0,174.1 184.0,175.1 186.0,176.1 188.0,177.2 190.0,178.2 192.0,179.2 194.0,180.2 196.0,181.2 198.0,182.2 200.0,183.2 202.0,184.1 204.0,185.0 206.0,186.0 208.0,186.9 210.0,187.8 212.0,188.7 214.0,189.7 216.0,190.6 218.0,191.5 220.0,192.5 222.0,193.4 224.0,194.3 226.0,195.3 228.0,196.2 230.0,197.0 232.0,197.8 234.0,198.5 236.0,199.2 238.0,200.0 240.0,200.7 242.0,201.4 244.0,202.0 246.0,202.7 248.0,203.4 250.0,204.0 252.0,204.7 254.0,205.3 256.0,206.0 258.0,206.6 260.0,207.3 262.0,207.9 264.0,208.6 266.0,209.2 268.0,209.9 270.0,210.5 272.0,211.2 274.0,211.8 276.0,212.4 278.0,213.1 280.0,213.7 282.0,214.4 284.0,215.0 286.0,215.6 288.0,216.3 290.0,216.9 292.0,217.5 294.0,218.1 296.0,218.7 298.0,219.3 300.0,219.9 302.0,220.4 304.0,220.8 306.0,221.3 308.0,221.8 310.0,222.3 312.0,222.8 314.0,223.3 316.0,223.7 318.0,224.2 320.0,224.7 322.0,225.2 324.0,225.7 326.0,226.2 328.0,226.6 330.0,227.1 332.0,227.6 334.0,228.1 336.0,228.6 338.0,229.1 340.0,229.5 342.0,229.9 344.0,230.3 346.0,230.6 348.0,231.0 350.0,231.3 352.0,231.7 354.0,232.0 356.0,232.4 358.0,232.7 360.0,233.1 362.0,233.5 364.0,233.8 366.0,234.2 368.0,234.4 370.0,234.7 372.0,235.0 374.0,235.2 376.0,235.5 378.0,235.8 380.0,236.0 382.0,236.3 384.0,236.6 386.0,236.8 388.0,237.0 390.0,237.3 392.0,237.5 394.0,237.7 396.0,237.9 398.0,238.1 400.0,238.3 402.0,238.6 403.7,238.7" fill="none" stroke="#ff0000" stroke-width="1.12"/>
<polyline points="32.5,102.6 34.0,102.4 36.0,102.1 38.0,101.8 40.0,101.5 42.0,101.2 44.0,100.9 46.0,100.6 48.0,100.4 50.0,100.1 52.0,99.8 54.0,100.4 56.0,101.0 58.0,101.5 60.0,102.1 62.0,103.0 64.0,103.8 66.0,104.6 68.0,105.4 70.0,106.3 72.0,107.2 74.0,108.2 76.0,109.1 78.0,110.1 80.0,111.0 82.0,112.0 84.0,112.9 86.0,114.0 88.0,115.3 90.0,116.6 92.0,117.8 94.0,119.1 96.0,120.3 98.0,121.6 100.0,122.8 102.0,124.0 104.0,125.2 106.0,126.4 108.0,127.6 110.0,128.8 112.0,130.3 114.0,131.7 116.0,133.1 118.0,134.5 120.0,136.0 122.0,137.4 124.0,138.8 126.0,140.2 128.0,141.6 130.0,143.1 132.0,144.5 134.0,145.9 136.0,147.3 138.0,148.8 140.0,150.2 142.0,151.6 144.0,153.0 146.0,154.5 148.0,155.8 150.0,157.2 152.0,158.6 154.0,159.9 156.0,161.3 158.0,162.5 160.0,163.7 162.0,164.9 164.0,166.2 166.0,167.3 168.0,168.5 170.0,169.6 172.0,170.8 174.0,171.9 176.0,173.0 178.0,174.1 180.0,175.2 182.0,176.3 184.0,177.3 186.0,178.4 188.0,179.4 190.0,180.4 192.0,181.5 194.0,182.5 196.0,183.6 198.0,184.6 200.0,185.5 202.0,186.4 204.0,187.3 206.0,188.3 208.0,189.2 210.0,190.1 212.0,191.0 214.0,192.0 216.0,192.9 218.0,193.8 220.0,194.7 222.0,195.7 224.0,196.6 226.0,197.5 228.0,198.4 230.0,199.2 232.0,200.0 234.0,200.7 236.0,201.5 238.0,202.2 240.0,203.0 242.0,203.6 244.0,204.3 246.0,204.9 248.0,205.6 250.0,206.2 252.0,206.9 254.0,207.5 256.0,208.2 258.0,208.8 260.0,209.5 262.0,210.1 264.0,210.8 266.0,211.4 268.0,212.1 270.0,212.7 272.0,213.3 274.0,214.0 276.0,214.6 278.0,215.3 280.0,215.9 282.0,216.6 284.0,217.2 286.0,217.8 288.0,218.5 290.0,219.1 292.0,219.7 294.0,220.3 296.0,220.9 298.0,221.5 300.0,222.1 302.0,222.5 304.0,223.0 306.0,223.5 308.0,224.0 310.0,224.5 312.0,225.0 314.0,225.5 316.0,226.0 318.0,226.5 320.0,227.0 322.0,227.5 324.0,228.0 326.0,228.5 328.0,228.9 330.0,229.4 332.0,229.9 334.0,230.4 336.0,230.9 338.0,231.4 340.0,231.9 342.0,232.3 344.0,232.6 346.0,233.0 348.0,233.3 350.0,233.7 352.0,234.0 354.0,234.3 356.0,234.7 358.0,235.0 360.0,235.4 362.0,235.7 364.0,236.1 366.0,236.4 368.0,236.7 370.0,237.0 372.0,237.2 374.0,237.5 376.0,237.7 378.0,238.0 380.0,238.3 382.0,238.5 384.0,238.8 386.0,239.0 388.0,239.2 390.0,239.4 392.0,239.6 394.0,239.8 396.0,240.0 398.0,240.2 400.0,240.4 402.0,240.6 403.7,240.8" fill="none" stroke="#ff0000" stroke-width="1.12"/>
<polyline points="32.5,105.3 34.0,105.0 36.0,104.7 38.0,104.4 40.0,104.1 42.0,103.8 44.0,103.4 46.0,103.1 48.0,102.8 50.0,102.5 52.0,102.2 54.0,102.7 56.0,103.3 58.0,103.9 60.0,104.5 62.0,105.4 64.0,106.3 66.0,107.2 68.0,108.1 70.0,109.0 72.0,110.0 74.0,110.9 76.0,111.9 78.0,112.9 80.0,113.8 82.0,114.8 84.0,115.7 86.0,116.9 88.0,118.1 90.0,119.4 92.0,120.6 94.0,121.9 96.0,123.2 98.0,124.4 100.0,125.6 102.0,126.9 104.0,128.1 106.0,129.3 108.0,130.5 110.0,131.8 112.0,133.2 114.0,134.7 116.0,136.1 118.0,137.5 120.0,139.0 122.0,140.4 124.0,141.8 126.0,143.3 128.0,144.7 130.0,146.2 132.0,147.6 134.0,149.1 136.0,150.5 138.0,151.9 140.0,153.4 142.0,154.8 144.0,156.3 146.0,157.7 148.0,159.1 150.0,160.5 152.0,161.9 154.0,163.2 156.0,164.6 158.0,165.9 160.0,167.1 162.0,168.3 164.0,169.5 166.0,170.7 168.0,171.8 170.0,173.0 172.0,174.1 174.0,175.2 176.0,176.3 178.0,177.4 180.0,178.5 182.0,179.6 184.0,180.7 186.0,181.8 188.0,182.8 190.0,183.9 192.0,185.0 194.0,186.1 196.0,187.2 198.0,188.2 200.0,189.1 202.0,190.0 204.0,190.9 206.0,191.9 208.0,192.8 210.0,193.7 212.0,194.6 214.0,195.5 216.0,196.4 218.0,197.3 220.0,198.2 222.0,199.2 224.0,200.1 226.0,201.0 228.0,201.8 230.0,202.6 232.0,203.4 234.0,204.2 236.0,204.9 238.0,205.7 240.0,206.5 242.0,207.1 244.0,207.8 246.0,208.4 248.0,209.0 250.0,209.7 252.0,210.3 254.0,211.0 256.0,211.6 258.0,212.2 260.0,212.9 262.0,213.5 264.0,214.2 266.0,214.8 268.0,215.4 270.0,216.1 272.0,216.7 274.0,217.4 276.0,218.0 278.0,218.6 280.0,219.3 282.0,219.9 284.0,220.6 286.0,221.2 288.0,221.8 290.0,222.5 292.0,223.1 294.0,223.6 296.0,224.2 298.0,224.8 300.0,225.4 302.0,225.9 304.0,226.4 306.0,226.9 308.0,227.4 310.0,227.9 312.0,228.4 314.0,229.0 316.0,229.5 318.0,230.0 320.0,230.5 322.0,231.0 324.0,231.5 326.0,232.0 328.0,232.5 330.0,233.0 332.0,233.5 334.0,234.0 336.0,234.5 338.0,235.0 340.0,235.5 342.0,235.9 344.0,236.2 346.0,236.6 348.0,236.9 350.0,237.2 352.0,237.6 354.0,237.9 356.0,238.3 358.0,238.6 360.0,238.9 362.0,239.3 364.0,239.6 366.0,240.0 368.0,240.2 370.0,240.5 372.0,240.7 374.0,241.0 376.0,241.2 378.0,241.5 380.0,241.7 382.0,242.0 384.0,242.2 386.0,242.5 388.0,242.6 390.0,242.8 392.0,243.0 394.0,243.1 396.0,243.3 398.0,243.5 400.0,243.6 402.0,243.8 403.7,244.0" fill="none" stroke="#ff0000" stroke-width="1.12"/>
<polyline points="32.5,107.6 34.0,107.3 36.0,107.0 38.0,106.6 40.0,106.3 42.0,105.9 44.0,105.6 46.0,105.2 48.0,104.9 50.0,104.5 52.0,104.2 54.0,104.8 56.0,105.4 58.0,106.0 60.0,106.6 62.0,107.6 64.0,108.5 66.0,109.5 68.0,110.5 70.0,111.4 72.0,112.4 74.0,113.3 76.0,114.3 78.0,115.3 80.0,116.2 82.0,117.2 84.0,118.2 86.0,119.4 88.0,120.6 90.0,121.8 92.0,123.1 94.0,124.3 96.0,125.6 98.0,126.8 100.0,128.1 102.0,129.3 104.0,130.6 106.0,131.8 108.0,133.1 110.0,134.3 112.0,135.8 114.0,137.2 116.0,138.7 118.0,140.1 120.0,141.6 122.0,143.0 124.0,144.5 126.0,145.9 128.0,147.4 130.0,148.9 132.0,150.3 134.0,151.8 136.0,153.2 138.0,154.7 140.0,156.1 142.0,157.6 144.0,159.0 146.0,160.5 148.0,161.9 150.0,163.3 152.0,164.7 154.0,166.1 156.0,167.5 158.0,168.8 160.0,170.0 162.0,171.2 164.0,172.4 166.0,173.5 168.0,174.7 170.0,175.9 172.0,177.0 174.0,178.1 176.0,179.2 178.0,180.3 180.0,181.4 182.0,182.5 184.0,183.6 186.0,184.7 188.0,185.8 190.0,186.9 192.0,188.0 194.0,189.2 196.0,190.3 198.0,191.3 200.0,192.2 202.0,193.1 204.0,194.0 206.0,194.9 208.0,195.8 210.0,196.8 212.0,197.7 214.0,198.6 216.0,199.5 218.0,200.4 220.0,201.3 222.0,202.2 224.0,203.1 226.0,204.0 228.0,204.8 230.0,205.6 232.0,206.4 234.0,207.1 236.0,207.9 238.0,208.7 240.0,209.5 242.0,210.1 244.0,210.8 246.0,211.4 248.0,212.0 250.0,212.7 252.0,213.3 254.0,213.9 256.0,214.5 258.0,215.2 260.0,215.8 262.0,216.4 264.0,217.1 266.0,217.7 268.0,218.4 270.0,219.0 272.0,219.6 274.0,220.3 276.0,220.9 278.0,221.6 280.0,222.2 282.0,222.8 284.0,223.5 286.0,224.1 288.0,224.8 290.0,225.4 292.0,226.0 294.0,226.6 296.0,227.1 298.0,227.7 300.0,228.3 302.0,228.8 304.0,229.3 306.0,229.9 308.0,230.4 310.0,230.9 312.0,231.4 314.0,231.9 316.0,232.5 318.0,233.0 320.0,233.5 322.0,234.0 324.0,234.5 326.0,235.1 328.0,235.6 330.0,236.1 332.0,236.6 334.0,237.1 336.0,237.7 338.0,238.2 340.0,238.7 342.0,239.0 344.0,239.4 346.0,239.7 348.0,240.0 350.0,240.4 352.0,240.7 354.0,241.0 356.0,241.3 358.0,241.7 360.0,242.0 362.0,242.3 364.0,242.7 366.0,243.0 368.0,243.2 370.0,243.5 372.0,243.7 374.0,244.0 376.0,244.2 378.0,244.4 380.0,244.7 382.0,244.9 384.0,245.2 386.0,245.4 388.0,245.5 390.0,245.7 392.0,245.8 394.0,246.0 396.0,246.1 398.0,246.3 400.0,246.4 402.0,246.6 403.7,246.7" fill="none" stroke="#ff0000" stroke-width="1.12"/>
<polygon points="32.5,92.3 34.0,92.2 36.0,92.0 38.0,91.9 40.0,91.7 42.0,91.5 44.0,91.3 46.0,91.2 48.0,91.0 50.0,90.8 52.0,90.7 54.0,91.2 56.0,91.8 58.0,92.4 60.0,92.9 62.0,93.5 64.0,94.0 66.0,94.6 68.0,95.2 70.0,95.8 72.0,96.7 74.0,97.6 76.0,98.5 78.0,99.5 80.0,100.4 82.0,101.3 84.0,102.2 86.0,103.2 88.0,104.4 90.0,105.7 92.0,107.0 94.0,108.3 96.0,109.6 98.0,110.9 100.0,112.1 102.0,113.2 104.0,114.4 106.0,115.5 108.0,116.6 110.0,117.8 112.0,119.1 114.0,120.5 116.0,121.8 118.0,123.2 120.0,124.5 122.0,125.9 124.0,127.2 126.0,128.6 128.0,130.0 130.0,131.3 132.0,132.7 134.0,134.0 136.0,135.4 138.0,136.8 140.0,138.1 142.0,139.5 144.0,140.9 146.0,142.2 148.0,143.6 150.0,144.9 152.0,146.2 154.0,147.4 156.0,148.7 158.0,149.9 160.0,151.1 162.0,152.4 164.0,153.6 166.0,154.8 168.0,155.9 170.0,157.1 172.0,158.2 174.0,159.3 176.0,160.5 178.0,161.6 180.0,162.7 182.0,163.6 184.0,164.6 186.0,165.5 188.0,166.4 190.0,167.3 192.0,168.2 194.0,169.1 196.0,170.1 198.0,171.0 200.0,171.9 202.0,172.9 204.0,173.8 206.0,174.8 208.0,175.8 210.0,176.7 212.0,177.7 214.0,178.7 216.0,179.6 218.0,180.6 220.0,181.5 222.0,182.5 224.0,183.5 226.0,184.4 228.0,185.4 230.0,186.4 232.0,187.1 234.0,187.7 236.0,188.4 238.0,189.1 240.0,189.8 242.0,190.5 244.0,191.2 246.0,191.8 248.0,192.5 250.0,193.2 252.0,193.9 254.0,194.6 256.0,195.3 258.0,195.9 260.0,196.6 262.0,197.3 264.0,197.9 266.0,198.6 268.0,199.2 270.0,199.9 272.0,200.5 274.0,201.2 276.0,201.8 278.0,202.5 280.0,203.1 282.0,203.7 284.0,204.3 286.0,204.9 288.0,205.6 290.0,206.2 292.0,206.8 294.0,207.4 296.0,208.0 298.0,208.6 300.0,209.3 302.0,209.7 304.0,210.1 306.0,210.6 308.0,211.0 310.0,211.4 312.0,211.9 314.0,212.3 316.0,212.8 318.0,213.2 320.0,213.6 322.0,214.1 324.0,214.5 326.0,214.9 328.0,215.4 330.0,215.8 332.0,216.3 334.0,216.7 336.0,217.1 338.0,217.6 340.0,218.0 342.0,218.4 344.0,218.8 346.0,219.1 348.0,219.5 350.0,219.9 352.0,220.3 354.0,220.6 356.0,221.0 358.0,221.4 360.0,221.8 362.0,222.1 364.0,222.5 366.0,222.9 368.0,223.2 370.0,223.5 372.0,223.8 374.0,224.1 376.0,224.3 378.0,224.6 380.0,224.9 382.0,225.2 384.0,225.5 386.0,225.8 388.0,226.1 390.0,226.4 392.0,226.7 394.0,226.9 396.0,227.2 398.0,227.5 400.0,227.8 402.0,228.1 403.7,228.3 403.7,230.8 402.0,230.6 400.0,230.3 398.0,230.0 396.0,229.7 394.0,229.4 392.0,229.1 390.0,228.8 388.0,228.5 386.0,228.2 384.0,227.8 382.0,227.5 380.0,227.2 378.0,226.9 376.0,226.6 374.0,226.3 372.0,226.0 370.0,225.7 368.0,225.4 366.0,225.1 364.0,224.7 362.0,224.3 360.0,223.9 358.0,223.5 356.0,223.1 354.0,222.7 352.0,222.4 350.0,222.0 348.0,221.6 346.0,221.2 344.0,220.8 342.0,220.4 340.0,220.0 338.0,219.6 336.0,219.1 334.0,218.7 332.0,218.2 330.0,217.8 328.0,217.3 326.0,216.9 324.0,216.5 322.0,216.0 320.0,215.6 318.0,215.1 316.0,214.7 314.0,214.2 312.0,213.8 310.0,213.3 308.0,212.9 306.0,212.5 304.0,212.0 302.0,211.6 300.0,211.1 298.0,210.5 296.0,209.9 294.0,209.3 292.0,208.6 290.0,208.0 288.0,207.4 286.0,206.8 284.0,206.1 282.0,205.5 280.0,204.9 278.0,204.2 276.0,203.6 274.0,202.9 272.0,202.3 270.0,201.6 268.0,201.0 266.0,200.3 264.0,199.7 262.0,199.0 260.0,198.4 258.0,197.7 256.0,197.0 254.0,196.3 252.0,195.6 250.0,194.9 248.0,194.2 246.0,193.5 244.0,192.9 242.0,192.2 240.0,191.5 238.0,190.8 236.0,190.1 234.0,189.4 232.0,188.7 230.0,188.0 228.0,187.1 226.0,186.1 224.0,185.1 222.0,184.2 220.0,183.2 218.0,182.2 216.0,181.2 214.0,180.3 212.0,179.3 210.0,178.3 208.0,177.4 206.0,176.4 204.0,175.4 202.0,174.5 200.0,173.5 198.0,172.6 196.0,171.7 194.0,170.7 192.0,169.8 190.0,168.9 188.0,168.0 186.0,167.0 184.0,166.1 182.0,165.2 180.0,164.3 178.0,163.1 176.0,162.0 174.0,160.9 172.0,159.7 170.0,158.6 168.0,157.5 166.0,156.3 164.0,155.1 162.0,153.9 160.0,152.7 158.0,151.4 156.0,150.2 154.0,148.9 152.0,147.7 150.0,146.4 148.0,145.1 146.0,143.7 144.0,142.4 142.0,141.0 140.0,139.6 138.0,138.3 136.0,136.9 134.0,135.5 132.0,134.2 130.0,132.8 128.0,131.5 126.0,130.1 124.0,128.7 122.0,127.4 120.0,126.0 118.0,124.7 116.0,123.3 114.0,122.0 112.0,120.6 110.0,119.2 108.0,118.1 106.0,117.0 104.0,115.9 102.0,114.7 100.0,113.6 98.0,112.4 96.0,111.1 94.0,109.8 92.0,108.5 90.0,107.2 88.0,105.9 86.0,104.7 84.0,103.7 82.0,102.8 80.0,101.9 78.0,101.0 76.0,100.0 74.0,99.1 72.0,98.2 70.0,97.2 68.0,96.7 66.0,96.1 64.0,95.5 62.0,95.0 60.0,94.4 58.0,93.9 56.0,93.3 54.0,92.7 52.0,92.2 50.0,92.3 48.0,92.5 46.0,92.7 44.0,92.8 42.0,93.0 40.0,93.2 38.0,93.4 36.0,93.5 34.0,93.7 32.5,93.8" fill="#000" stroke="#000" stroke-width="0.2"/>
<line x1="206.2" y1="118.3" x2="206.2" y2="125.5" stroke="#0a0aff" stroke-width="1.2"/>
<line x1="221.8" y1="113.2" x2="221.8" y2="122.6" stroke="#0a0aff" stroke-width="1.2"/>
<line x1="237.7" y1="110.2" x2="237.7" y2="125.8" stroke="#0a0aff" stroke-width="1.2"/>
<line x1="253.5" y1="100.2" x2="253.5" y2="124.0" stroke="#0a0aff" stroke-width="1.2"/>
<line x1="269.0" y1="91.6" x2="269.0" y2="127.1" stroke="#0a0aff" stroke-width="1.2"/>
<line x1="284.8" y1="84.2" x2="284.8" y2="135.3" stroke="#0a0aff" stroke-width="1.2"/>
<line x1="300.4" y1="81.6" x2="300.4" y2="153.9" stroke="#0a0aff" stroke-width="1.2"/>
<line x1="316.2" y1="69.9" x2="316.2" y2="168.9" stroke="#0a0aff" stroke-width="1.2"/>
<line x1="335.3" y1="49.5" x2="335.3" y2="186.4" stroke="#0a0aff" stroke-width="1.2"/>
<line x1="358.6" y1="43.9" x2="358.6" y2="232.6" stroke="#0a0aff" stroke-width="1.2"/>
<rect x="204.8" y="120.5" width="2.9" height="2.9" fill="#fff" stroke="#0a0aff" stroke-width="0.95"/>
<rect x="220.4" y="116.5" width="2.9" height="2.9" fill="#fff" stroke="#0a0aff" stroke-width="0.95"/>
<rect x="236.2" y="116.5" width="2.9" height="2.9" fill="#fff" stroke="#0a0aff" stroke-width="0.95"/>
<rect x="252.1" y="111.0" width="2.9" height="2.9" fill="#fff" stroke="#0a0aff" stroke-width="0.95"/>
<rect x="267.6" y="108.3" width="2.9" height="2.9" fill="#fff" stroke="#0a0aff" stroke-width="0.95"/>
<rect x="283.4" y="108.8" width="2.9" height="2.9" fill="#fff" stroke="#0a0aff" stroke-width="0.95"/>
<rect x="298.9" y="116.1" width="2.9" height="2.9" fill="#fff" stroke="#0a0aff" stroke-width="0.95"/>
<rect x="314.8" y="121.8" width="2.9" height="2.9" fill="#fff" stroke="#0a0aff" stroke-width="0.95"/>
<rect x="333.9" y="116.5" width="2.9" height="2.9" fill="#fff" stroke="#0a0aff" stroke-width="0.95"/>
<rect x="357.2" y="147.2" width="2.9" height="2.9" fill="#fff" stroke="#0a0aff" stroke-width="0.95"/>
<line x1="29.15" y1="29.3" x2="29.15" y2="250.95000000000002" stroke="#000" stroke-width="1.5"/>
<line x1="29.15" y1="29.85" x2="407.0" y2="29.85" stroke="#000" stroke-width="1.1"/>
<line x1="29.15" y1="250.4" x2="407.0" y2="250.4" stroke="#000" stroke-width="1.1"/>
<line x1="406.5" y1="29.3" x2="406.5" y2="250.95000000000002" stroke="#444" stroke-width="1.0"/>
<line x1="32.50" y1="250.4" x2="32.50" y2="246.6" stroke="#000" stroke-width="1"/>
<line x1="46.50" y1="250.4" x2="46.50" y2="246.6" stroke="#000" stroke-width="1"/>
<line x1="56.50" y1="250.4" x2="56.50" y2="246.6" stroke="#000" stroke-width="1"/>
<line x1="63.50" y1="250.4" x2="63.50" y2="246.6" stroke="#000" stroke-width="1"/>
<line x1="69.50" y1="250.4" x2="69.50" y2="246.6" stroke="#000" stroke-width="1"/>
<line x1="75.50" y1="250.4" x2="75.50" y2="246.6" stroke="#000" stroke-width="1"/>
<line x1="79.50" y1="250.4" x2="79.50" y2="246.6" stroke="#000" stroke-width="1"/>
<line x1="83.50" y1="250.4" x2="83.50" y2="246.6" stroke="#000" stroke-width="1"/>
<line x1="87.50" y1="250.4" x2="87.50" y2="243.4" stroke="#000" stroke-width="1"/>
<line x1="111.50" y1="250.4" x2="111.50" y2="246.6" stroke="#000" stroke-width="1"/>
<line x1="125.50" y1="250.4" x2="125.50" y2="246.6" stroke="#000" stroke-width="1"/>
<line x1="135.50" y1="250.4" x2="135.50" y2="246.6" stroke="#000" stroke-width="1"/>
<line x1="142.50" y1="250.4" x2="142.50" y2="246.6" stroke="#000" stroke-width="1"/>
<line x1="149.50" y1="250.4" x2="149.50" y2="246.6" stroke="#000" stroke-width="1"/>
<line x1="154.50" y1="250.4" x2="154.50" y2="246.6" stroke="#000" stroke-width="1"/>
<line x1="158.50" y1="250.4" x2="158.50" y2="246.6" stroke="#000" stroke-width="1"/>
<line x1="162.50" y1="250.4" x2="162.50" y2="246.6" stroke="#000" stroke-width="1"/>
<line x1="166.50" y1="250.4" x2="166.50" y2="243.4" stroke="#000" stroke-width="1"/>
<line x1="190.50" y1="250.4" x2="190.50" y2="246.6" stroke="#000" stroke-width="1"/>
<line x1="204.50" y1="250.4" x2="204.50" y2="246.6" stroke="#000" stroke-width="1"/>
<line x1="214.50" y1="250.4" x2="214.50" y2="246.6" stroke="#000" stroke-width="1"/>
<line x1="221.50" y1="250.4" x2="221.50" y2="246.6" stroke="#000" stroke-width="1"/>
<line x1="228.50" y1="250.4" x2="228.50" y2="246.6" stroke="#000" stroke-width="1"/>
<line x1="233.50" y1="250.4" x2="233.50" y2="246.6" stroke="#000" stroke-width="1"/>
<line x1="238.50" y1="250.4" x2="238.50" y2="246.6" stroke="#000" stroke-width="1"/>
<line x1="242.50" y1="250.4" x2="242.50" y2="246.6" stroke="#000" stroke-width="1"/>
<line x1="245.50" y1="250.4" x2="245.50" y2="243.4" stroke="#000" stroke-width="1"/>
<line x1="269.50" y1="250.4" x2="269.50" y2="246.6" stroke="#000" stroke-width="1"/>
<line x1="283.50" y1="250.4" x2="283.50" y2="246.6" stroke="#000" stroke-width="1"/>
<line x1="293.50" y1="250.4" x2="293.50" y2="246.6" stroke="#000" stroke-width="1"/>
<line x1="300.50" y1="250.4" x2="300.50" y2="246.6" stroke="#000" stroke-width="1"/>
<line x1="307.50" y1="250.4" x2="307.50" y2="246.6" stroke="#000" stroke-width="1"/>
<line x1="312.50" y1="250.4" x2="312.50" y2="246.6" stroke="#000" stroke-width="1"/>
<line x1="317.50" y1="250.4" x2="317.50" y2="246.6" stroke="#000" stroke-width="1"/>
<line x1="321.50" y1="250.4" x2="321.50" y2="246.6" stroke="#000" stroke-width="1"/>
<line x1="324.50" y1="250.4" x2="324.50" y2="243.4" stroke="#000" stroke-width="1"/>
<line x1="348.50" y1="250.4" x2="348.50" y2="246.6" stroke="#000" stroke-width="1"/>
<line x1="362.50" y1="250.4" x2="362.50" y2="246.6" stroke="#000" stroke-width="1"/>
<line x1="372.50" y1="250.4" x2="372.50" y2="246.6" stroke="#000" stroke-width="1"/>
<line x1="380.50" y1="250.4" x2="380.50" y2="246.6" stroke="#000" stroke-width="1"/>
<line x1="386.50" y1="250.4" x2="386.50" y2="246.6" stroke="#000" stroke-width="1"/>
<line x1="391.50" y1="250.4" x2="391.50" y2="246.6" stroke="#000" stroke-width="1"/>
<line x1="396.50" y1="250.4" x2="396.50" y2="246.6" stroke="#000" stroke-width="1"/>
<line x1="400.50" y1="250.4" x2="400.50" y2="246.6" stroke="#000" stroke-width="1"/>
<line x1="403.50" y1="250.4" x2="403.50" y2="243.4" stroke="#000" stroke-width="1"/>
</svg>
<div class="t yl" style="top:245.3px">0</div>
<div class="t yl" style="top:220.9px">0.2</div>
<div class="t yl" style="top:196.4px">0.4</div>
<div class="t yl" style="top:172.0px">0.6</div>
<div class="t yl" style="top:147.6px">0.8</div>
<div class="t yl" style="top:123.1px">1</div>
<div class="t yl" style="top:98.7px">1.2</div>
<div class="t yl" style="top:74.3px">1.4</div>
<div class="t yl" style="top:49.8px">1.6</div>
<div class="t yl" style="top:25.4px">1.8</div>
<div class="t xl" style="left:76.3px;top:258.2px">10<sup>2</sup></div>
<div class="t xl" style="left:157.8px;top:258.2px">10<sup>3</sup></div>
<div class="t xl" style="left:238.6px;top:258.2px">10<sup>4</sup></div>
<div class="t xl" style="left:317.0px;top:258.2px">10<sup>5</sup></div>
<div class="t" style="font-size:9.2px;left:363.0px;top:261.1px">Tp (GeV)</div>
<div class="t" style="font-size:14px;left:297.4px;top:35.2px">min</div>
<div class="t ytitle" style="font-size:9.3px;left:11.2px;top:138.7px;transform-origin:0 0;transform:rotate(-90deg) translateY(-100%);">&Phi; &times; Tp<sup>2.7</sup> cm<sup>-2 </sup>s<sup>-1</sup> GeV<sup>-1</sup> sr<sup>-1</sup></div>
<style>.ytitle sup{font-size:5.7px;vertical-align:baseline;position:relative;top:-4.2px;line-height:0}</style>
</div></body></html>
